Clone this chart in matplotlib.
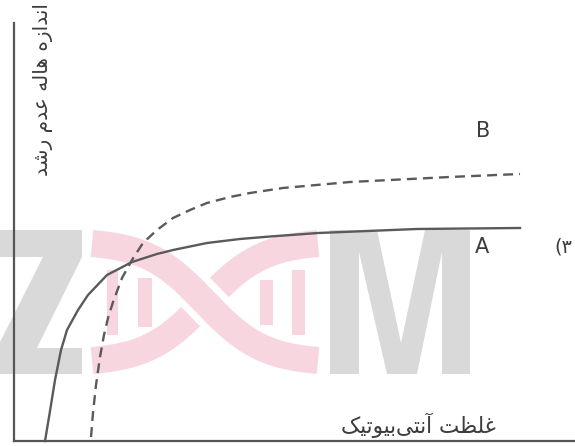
import matplotlib
matplotlib.use("Agg")
import numpy as np
import matplotlib.pyplot as plt
from matplotlib.patches import Polygon, Rectangle
from matplotlib import font_manager, ft2font

# ---------------- data (arbitrary units: concentration 0-100, zone size 0-100)
conc_A = [5.53, 6.42, 7.31, 8.38, 9.45, 11.41, 13.19, 16.58, 21.03, 25.49, 28.34, 34.40,
          40.29, 45.63, 54.19, 71.84, 90.20]
size_A = [0.0, 7.18, 14.59, 21.77, 26.56, 31.34, 34.93, 39.71, 42.82, 44.74, 45.69, 47.37,
          48.33, 48.92, 49.76, 50.72, 50.96]

conc_B = [13.73, 14.08, 14.62, 15.33, 16.04, 16.76, 17.65, 19.25, 21.03, 22.99, 25.49,
          28.34, 31.37, 34.40, 38.50, 42.07, 47.95, 59.89, 77.72, 90.20]
size_B = [0.96, 6.70, 13.40, 20.10, 25.36, 29.43, 33.25, 38.99, 43.30, 47.37, 50.48,
          53.35, 55.26, 56.94, 58.37, 59.33, 60.53, 61.96, 63.16, 63.88]

ylabel_text = "اندازه هاله عدم رشد"
xlabel_text = "غلظت آنتی\u200cبیوتیک"
label_A = "A"
label_B = "B"
option_text = "(\u06F3"

# ---------------- minimal Persian shaping (visual order for matplotlib)
FONT = "DejaVu Sans"
_ft = ft2font.FT2Font(font_manager.findfont(FONT))


def has(cp):
    return _ft.get_char_index(cp) != 0


FORMS = {
    'ا': (0xFE8D, 0xFE8E, None, None), 'آ': (0xFE81, 0xFE82, None, None),
    'ب': (0xFE8F, 0xFE90, 0xFE91, 0xFE92), 'ت': (0xFE95, 0xFE96, 0xFE97, 0xFE98),
    'د': (0xFEA9, 0xFEAA, None, None), 'ر': (0xFEAD, 0xFEAE, None, None),
    'ز': (0xFEAF, 0xFEB0, None, None), 'ش': (0xFEB5, 0xFEB6, 0xFEB7, 0xFEB8),
    'ظ': (0xFEC5, 0xFEC6, 0xFEC7, 0xFEC8), 'ع': (0xFEC9, 0xFECA, 0xFECB, 0xFECC),
    'غ': (0xFECD, 0xFECE, 0xFECF, 0xFED0), 'ل': (0xFEDD, 0xFEDE, 0xFEDF, 0xFEE0),
    'م': (0xFEE1, 0xFEE2, 0xFEE3, 0xFEE4), 'ن': (0xFEE5, 0xFEE6, 0xFEE7, 0xFEE8),
    'ه': (0xFEE9, 0xFEEA, 0xFEEB, 0xFEEC), 'و': (0xFEED, 0xFEEE, None, None),
}
if all(has(c) for c in (0xFBFC, 0xFBFD, 0xFBFE, 0xFBFF)):
    FORMS['ی'] = (0xFBFC, 0xFBFD, 0xFBFE, 0xFBFF)
else:
    FORMS['ی'] = (0xFEEF, 0xFEF0, 0xFEF3, 0xFEF4)
if all(has(c) for c in (0xFB8E, 0xFB8F, 0xFB90, 0xFB91)):
    FORMS['ک'] = (0xFB8E, 0xFB8F, 0xFB90, 0xFB91)
else:
    FORMS['ک'] = (0xFED9, 0xFEDA, 0xFEDB, 0xFEDC)


def dual(ch):
    return ch in FORMS and FORMS[ch][2] is not None


def shape(text):
    out = []
    for i, ch in enumerate(text):
        if ch not in FORMS:
            if ch != '\u200c':
                out.append(ch)
            continue
        prev = text[i - 1] if i > 0 else None
        nxt = text[i + 1] if i + 1 < len(text) else None
        jp = prev is not None and dual(prev)
        jn = dual(ch) and nxt in FORMS
        iso, fin, ini, med = FORMS[ch]
        if jp and jn:
            cp = med
        elif jp:
            cp = fin
        elif jn:
            cp = ini
        else:
            cp = iso
        out.append(chr(cp))
    return ''.join(reversed(out))


def digits(s):
    return ''.join(c if (ord(c) != 0x06F3 or has(0x06F3)) else '\u0663' for c in s)


# ---------------- figure
W, H = 575, 446
fig = plt.figure(figsize=(W / 100, H / 100), dpi=100)
fig.patch.set_facecolor("white")

# background layer in pixel coordinates (watermark + labels)
bg = fig.add_axes([0, 0, 1, 1], zorder=0)
bg.set_xlim(0, W)
bg.set_ylim(H, 0)
bg.axis("off")

grey_wm = "#d9d9d9"
pink_wm = "#f8d6e0"

# "Z"
bg.add_patch(Polygon([(-40, 230), (82, 230), (82, 257), (37, 348), (82, 348), (82, 374),
                      (-40, 374), (-40, 348), (-3, 348), (43, 257), (-40, 257)],
                     closed=True, fc=grey_wm, ec="none", zorder=0))
# "M"
bg.add_patch(Polygon([(330, 374), (330, 230), (377, 230), (401, 343), (425, 230), (470, 230),
                      (470, 374), (442, 374), (442, 252), (417, 374), (387, 374), (359, 252),
                      (359, 374)], closed=True, fc=grey_wm, ec="none", zorder=0))
# DNA helix
xs = np.linspace(92, 318, 300)
k = 0.017
t = np.tanh(k * (xs - 205)) / np.tanh(k * 113)
s1 = 302 + 58.5 * t
s2 = 302 - 58.5 * t
lw_band = 27 * 0.72
bg.plot(xs, s2, color=pink_wm, lw=lw_band, solid_capstyle="butt", zorder=0.5)
mid = (xs > 170) & (xs < 240)
bg.plot(xs[mid], s1[mid], color="white", lw=lw_band + 14 * 0.72, solid_capstyle="butt", zorder=0.6)
bg.plot(xs, s1, color=pink_wm, lw=lw_band, solid_capstyle="butt", zorder=0.7)
for (x0, x1, y0, y1) in [(107, 118, 270, 335), (138, 152, 278, 327),
                         (260, 273, 280, 325), (292, 305, 270, 335)]:
    bg.add_patch(Rectangle((x0, y0), x1 - x0, y1 - y0, fc=pink_wm, ec="none", zorder=0.5))

txt_color = "#3c3c3c"
bg.text(43, 90, shape(ylabel_text), rotation=90, ha="center", va="center",
        fontsize=14.5, family=FONT, color=txt_color, zorder=5)
bg.text(418, 425, shape(xlabel_text), ha="center", va="center",
        fontsize=15.5, family=FONT, color=txt_color, zorder=5)
bg.text(483, 131, label_B, ha="center", va="center", fontsize=15, family=FONT,
        color=txt_color, zorder=5)
bg.text(482, 247, label_A, ha="center", va="center", fontsize=15, family=FONT,
        color=txt_color, zorder=5)
bg.text(563, 247, digits(option_text), ha="center", va="center", fontsize=14, family=FONT,
        color=txt_color, zorder=5)

# data axes
ax = fig.add_axes([14 / W, (H - 441) / H, (W - 14) / W, 418 / H], zorder=1)
ax.patch.set_alpha(0)
ax.set_xlim(0, 100)
ax.set_ylim(0, 100)
ax.set_xticks([])
ax.set_yticks([])
for side in ("top", "right"):
    ax.spines[side].set_visible(False)
for side in ("left", "bottom"):
    ax.spines[side].set_color("#555555")
    ax.spines[side].set_linewidth(1.6)

curve_color = "#5a5a5a"
ax.plot(conc_A, size_A, color=curve_color, lw=1.7, solid_joinstyle="round", clip_on=False)
ax.plot(conc_B, size_B, color=curve_color, lw=1.7, linestyle=(0, (4.2, 2.6)), clip_on=False)

fig.savefig("out.png", dpi=100, facecolor="white")
